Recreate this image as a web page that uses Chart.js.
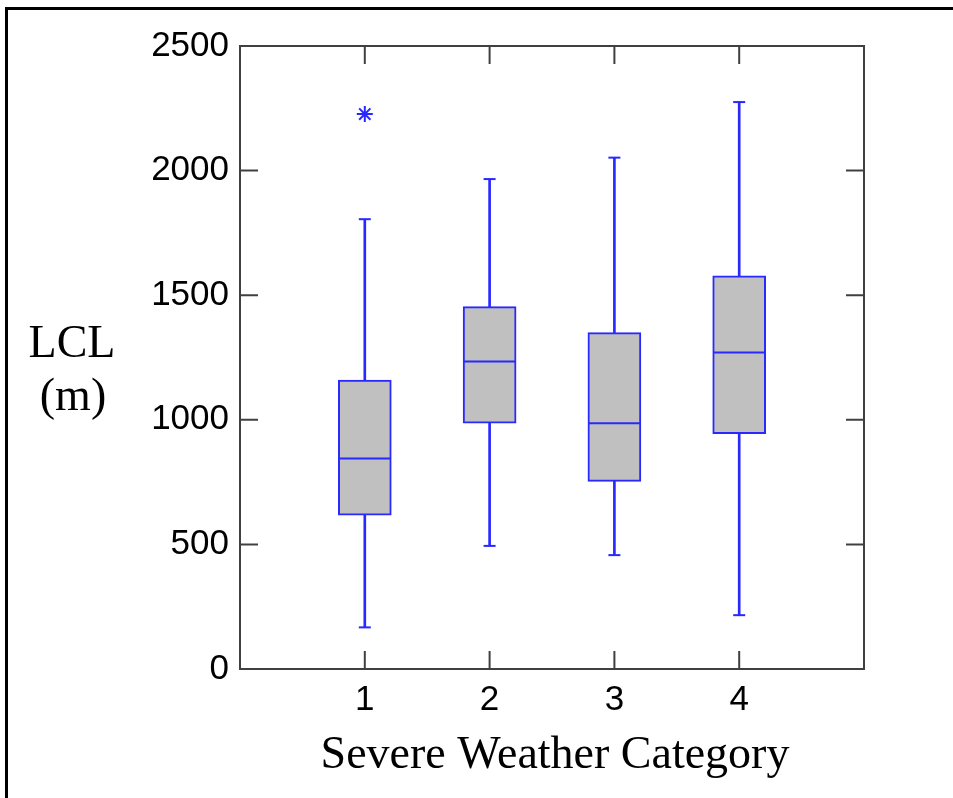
<!DOCTYPE html>
<html>
<head>
<meta charset="utf-8">
<script src="https://cdn.jsdelivr.net/npm/chart.js@4.4.1/dist/chart.umd.min.js"></script>
<style>
  html, body { margin: 0; padding: 0; background: #fff; }
  #wrap { position: relative; width: 953px; height: 798px; }
  #frame {
    position: absolute; left: 5px; top: 7px; right: 0; bottom: 0;
    border-left: 3px solid #000; border-top: 3px solid #000;
    pointer-events: none;
  }
</style>
</head>
<body>
<div id="wrap">
  <canvas id="lclChart"></canvas>
  <div id="frame"></div>
</div>
<script>
(function () {
  "use strict";

  // values (LCL in metres)
  const categories = [1, 2, 3, 4];
  const whiskerLow = [167, 494, 457, 216];
  const q1 = [617, 986, 753, 944];
  const median = [845, 1234, 986, 1270];
  const q3 = [1159, 1454, 1350, 1578];
  const whiskerHigh = [1805, 1966, 2052, 2275];
  const outlierCat = [1];
  const outlierVal = [2227];
  const yTicks = [0, 500, 1000, 1500, 2000, 2500];

  const BLUE = "rgb(40,40,255)";
  const AXIS = "#404040";
  const sans = "'Liberation Sans', Arial, sans-serif";
  const serif = "'Liberation Serif', 'Times New Roman', serif";

  function pts(vals) {
    return categories.map((c, i) => ({ x: c, y: vals[i] }));
  }
  function ranges(lo, hi) {
    return categories.map((c, i) => ({ x: c, y: [lo[i], hi[i]] }));
  }

  // frame, inward ticks and the two titles
  const decorations = {
    id: "decorations",
    afterDatasetsDraw(chart) {
      const { ctx, chartArea: a, scales } = chart;
      const tl = 18;
      ctx.save();
      ctx.strokeStyle = AXIS;
      ctx.lineWidth = 2;
      ctx.strokeRect(a.left, a.top, a.right - a.left, a.bottom - a.top);
      ctx.beginPath();
      yTicks.slice(1, -1).forEach(v => {
        const y = scales.y.getPixelForValue(v);
        ctx.moveTo(a.left, y); ctx.lineTo(a.left + tl, y);
        ctx.moveTo(a.right, y); ctx.lineTo(a.right - tl, y);
      });
      categories.forEach(v => {
        const x = scales.x.getPixelForValue(v);
        ctx.moveTo(x, a.bottom); ctx.lineTo(x, a.bottom - tl);
        ctx.moveTo(x, a.top); ctx.lineTo(x, a.top + tl);
      });
      ctx.stroke();

      ctx.fillStyle = "#000";
      ctx.textAlign = "center";
      ctx.textBaseline = "alphabetic";
      ctx.font = "46px " + serif;
      ctx.fillText("Severe Weather Category", (a.left + a.right) / 2 + 3, 768);
      ctx.fillText("LCL", 72, 357);
      ctx.fillText("(m)", 73, 410);
      ctx.restore();
    }
  };

  document.addEventListener("DOMContentLoaded", function () {
    new Chart(document.getElementById("lclChart"), {
      type: "bar",
      data: {
        datasets: [
          { type: "scatter", data: pts(median), pointStyle: "line", radius: 26,
            borderColor: BLUE, borderWidth: 2, order: 0 },
          { type: "scatter", data: pts(whiskerLow).concat(pts(whiskerHigh)), pointStyle: "line",
            radius: 6, borderColor: BLUE, borderWidth: 2, order: 0 },
          { type: "scatter", data: outlierCat.map((c, i) => ({ x: c, y: outlierVal[i] })),
            pointStyle: "star", radius: 8, borderColor: BLUE, borderWidth: 2, order: 0 },
          { data: ranges(q1, q3), barThickness: 53, grouped: false, backgroundColor: "#c0c0c0",
            borderColor: BLUE, borderWidth: 2, borderSkipped: false, order: 1 },
          { data: ranges(whiskerLow, q1), barThickness: 2, grouped: false,
            backgroundColor: BLUE, borderWidth: 0, order: 2 },
          { data: ranges(q3, whiskerHigh), barThickness: 2, grouped: false,
            backgroundColor: BLUE, borderWidth: 0, order: 2 }
        ]
      },
      options: {
        responsive: true,
        maintainAspectRatio: false,
        animation: false,
        events: [],
        layout: { padding: { left: 0, right: 89, top: 46, bottom: 0 } },
        plugins: { legend: { display: false }, tooltip: { enabled: false } },
        scales: {
          x: {
            type: "linear", min: 0, max: 5, offset: false,
            afterBuildTicks(scale) { scale.ticks = categories.map(v => ({ value: v })); },
            afterFit(scale) { scale.height = 129; },
            grid: { display: false, drawTicks: false },
            border: { display: false },
            ticks: { color: "#000", font: { family: sans, size: 35 }, padding: 10,
                     callback: v => String(v) }
          },
          y: {
            min: 0, max: 2500,
            afterBuildTicks(scale) { scale.ticks = yTicks.map(v => ({ value: v })); },
            afterFit(scale) { scale.width = 240; },
            grid: { display: false, drawTicks: false },
            border: { display: false },
            ticks: { color: "#000", font: { family: sans, size: 35 }, padding: 11,
                     callback: v => String(v) }
          }
        }
      },
      plugins: [decorations]
    });
  });
})();
</script>
</body>
</html>
